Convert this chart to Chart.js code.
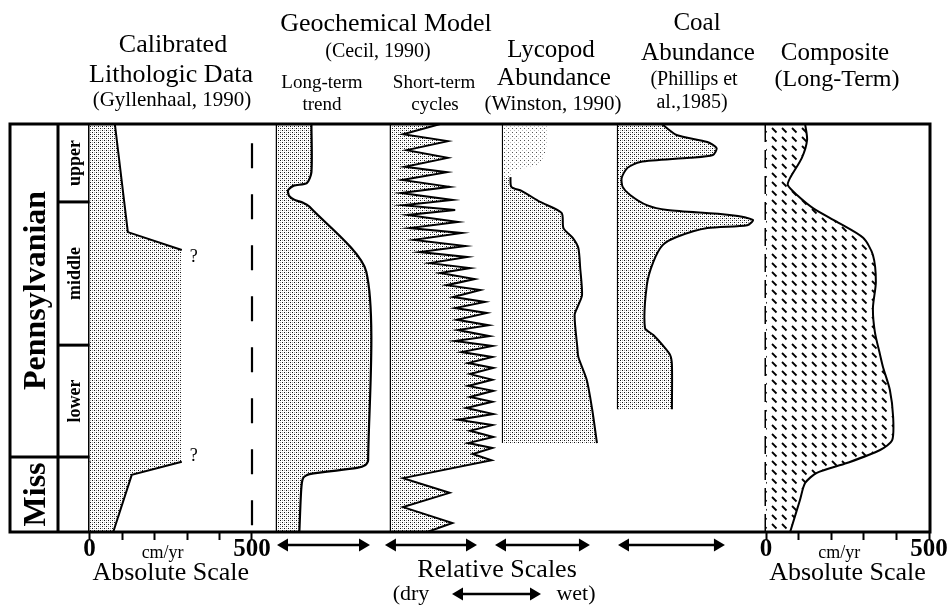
<!DOCTYPE html>
<html>
<head>
<meta charset="utf-8">
<script src="https://cdn.jsdelivr.net/npm/chart.js@4.4.1/dist/chart.umd.min.js"></script>
<style>
html,body{margin:0;padding:0;background:#fff;}
#wrap{width:947px;height:606px;position:relative;}
</style>
</head>
<body>
<div id="wrap"><canvas id="c" width="947" height="606"></canvas></div>
<script>
// ================= DATA =================
// Vertical axis: relative stratigraphic position (0 = base of Miss. column, 100 = top of Upper Penn.)
const periodNames = ['Miss', 'Pennsylvanian'];
const periodBase  = [0, 18.4];
const periodTop   = [18.4, 100];
const subNames = ['', 'lower', 'middle', 'upper'];
const subBase  = [0, 18.4, 45.8, 80.9];
const subTop   = [18.4, 45.8, 80.9, 100];

// Calibrated lithologic data (cm/yr, absolute scale)
const lithRate = [78, 118, 284, 284, 130, 73];
const lithTime = [100, 73.5, 69.1, 17.2, 14.0, 0];
const lithUnknownFrom = 2; // segment between "?" marks (no outline)

// Geochemical model: long-term trend (relative units, dry -> wet)
const longTrend = [3.7, 3.7, 3.2, 1.8, 1.2, 1.3, 1.9, 2.8, 3.5, 9.6, 9.8, 9.5, 8.6, 3.5, 2.8, 2.6, 2.4];
const longTime  = [100, 88.2, 85.5, 84.9, 83.8, 82.4, 81.4, 80.7, 79.7, 63.8, 17.6, 16.4, 15.7, 14.2, 13.2, 10.3, 0];

// Geochemical model: short-term cycles (relative units)
const shortCycles = [5.3,1.3,6.1,1.7,6.1,1.5,6.0,1.2,6.3,1.1, 6.6,1.3,6.9,1.8,7.2,2.0,7.6,2.5,8.0,3.1,
  8.2,4.2,8.5,5.3,9.0,6.0,9.6,6.7,10.1,6.9, 10.3,7.1,10.5,7.2,10.6,6.9,10.9,7.6,10.9,8.3,
  11.0,8.5,10.9,8.3,11.0,8.5,10.9,8.1,11.0,7.2, 10.9,8.5,11.0,8.3,10.9,8.8,10.8,1.3,6.3,1.3, 6.6,3.9];
const shortTime = [100,97.5,95.8,93.6,91.7,89.5,88.2,86.3,84.6,83.1, 81.4,80.1,78.9,77.7,76.0,74.5,73.3,71.6,70.1,68.6,
  67.4,65.9,64.7,63.5,62.0,60.5,59.3,57.6,56.4,54.9, 53.7,52.0,50.7,49.5,48.0,46.8,45.6,44.1,42.9,41.4,
  40.2,38.7,37.3,35.8,34.6,33.1,31.9,30.4,28.9,27.5, 26.2,24.8,23.3,21.8,20.6,19.1,17.6,13.2,9.6,6.1, 2.2,0];

// Lycopod abundance (relative units) - faint upper part and outlined main part
const lycFaint     = [4.8, 4.7, 4.2, 3.0, 1.0, 0.8];
const lycFaintTime = [100, 95, 91, 89.5, 88.5, 87];
const lycAbund = [0.8, 0.9, 2.0, 4.0, 6.3, 6.5, 7.5, 8.1, 8.3, 8.5, 8.1, 7.7, 8.0, 8.1, 9.0, 9.6, 10.1];
const lycTime  = [87.0, 84.6, 83.6, 80.9, 78.2, 74.5, 72.1, 69.6, 64.7, 58.1, 55.6, 53.2, 45.1, 42.9, 37.3, 29.9, 21.8];

// Coal abundance (relative units)
const coalAbund = [4.7,6.3,9.6,10.6,10.2,7.7,2.4,1.0,0.4,0.5, 1.3,3.1,5.3,12.0,14.5,13.9,9.6,6.3,4.8,3.8, 3.1,2.9,3.8,4.8,5.6,5.8,5.8];
const coalTime  = [100,97.3,95.6,94.1,92.4,91.7,90.7,89.2,86.8,84.6, 82.6,80.1,78.9,77.7,76.5,75.2,74.5,72.3,70.3,66.2, 60.5,50.0,48.3,45.8,43.4,40.9,30.1];

// Composite long-term (cm/yr, absolute scale)
const compRate = [120,126,110,74,67,95,144,218,298,328,337,328,334,350,359,380,390,387,350,248,156,120,104,74];
const compTime = [100,96.1,91.7,86.8,85.0,82.6,79.4,76.0,72.1,67.9,61.3,54.9,49.0,43.4,40.4,34.8,28.2,22.5,20.1,16.9,14.5,12.0,7.8,0];

// Axis ticks
const absTicks = [0, 100, 200, 300, 400, 500];
const absTickLabels = {0: '0', 500: '500'};
const absUnit = 'cm/yr';
const absUnitAt = 225;
const lithDashedAt = 500;

// ================= LAYOUT =================
const W = 947, H = 606;
const AREA = {left: 10, right: 930, top: 124, bottom: 532};
const SERIF = '"Liberation Serif", "Times New Roman", serif';
function panelRange(originPx, pxPerUnit) {
  return {min: (AREA.left - originPx) / pxPerUnit, max: (AREA.right - originPx) / pxPerUnit};
}
const canvas = document.getElementById('c');
const c2d = canvas.getContext('2d');
function tile(w, h, draw) {
  const t = document.createElement('canvas'); t.width = w; t.height = h;
  const g = t.getContext('2d'); g.fillStyle = '#fff'; g.fillRect(0, 0, w, h); draw(g);
  return c2d.createPattern(t, 'repeat');
}
const stipple = tile(4, 4, g => { g.fillStyle = '#111'; g.fillRect(0, 0, 1, 1); g.fillRect(2, 2, 1, 1); g.fillStyle = '#aaa'; g.fillRect(2, 0, 1, 1); g.fillRect(0, 2, 1, 1); });
const faintStipple = tile(4, 4, g => { g.fillStyle = '#555'; g.fillRect(0, 0, 1, 1); g.fillStyle = '#bbb'; g.fillRect(2, 2, 1, 1); });
const hatch = tile(10, 9, g => { g.strokeStyle = '#000'; g.lineWidth = 1.8; g.beginPath(); g.moveTo(2, 2); g.lineTo(6.5, 6.5); g.stroke(); });

const pts = (xs, ts) => xs.map((x, i) => ({x: x, y: ts[i]}));
const vline = (axis, from, to, width, dash) => ({
  xAxisID: axis, data: [{x: 0, y: to}, {x: 0, y: from}], fill: false,
  borderColor: '#000', borderWidth: width, borderDash: dash || [], tension: 0
});

function absAxis(originPx, pxPerUnit) {
  return Object.assign({
    type: 'linear', display: true, position: {y: 0},
    border: {display: false},
    grid: {display: true, drawOnChartArea: false, drawTicks: true, tickLength: 8, tickWidth: 2,
      tickColor: ctx => (ctx.tick && ctx.tick.value === absUnitAt) ? 'rgba(0,0,0,0)' : '#000'},
    afterBuildTicks: sc => { sc.ticks = absTicks.concat([absUnitAt]).sort((a, b) => a - b).map(v => ({value: v})); },
    afterFit: sc => { sc.paddingLeft = 0; sc.paddingRight = 0; },
    ticks: {
      autoSkip: false, maxRotation: 0, minRotation: 0, padding: -5, color: '#000',
      font: ctx => (ctx.tick && ctx.tick.value === absUnitAt)
        ? {family: SERIF, size: 18, lineHeight: 2.0}
        : {family: SERIF, size: 25, weight: 'bold', lineHeight: 1.2},
      callback: v => v === absUnitAt ? absUnit : (absTickLabels[v] || '')
    }
  }, panelRange(originPx, pxPerUnit));
}
const hidden = r => Object.assign({type: 'linear', display: false}, r);

// ---------------- annotations plugin ----------------
function text(ctx, s, x, y, size, bold, align) {
  ctx.font = (bold ? 'bold ' : '') + size + 'px ' + SERIF;
  ctx.textAlign = align || 'center'; ctx.textBaseline = 'middle'; ctx.fillStyle = '#000';
  ctx.fillText(s, x, y);
}
function seg(ctx, x1, y1, x2, y2) { ctx.beginPath(); ctx.moveTo(x1, y1); ctx.lineTo(x2, y2); ctx.stroke(); }
function arrow(ctx, x1, x2, y) {
  const hl = 11, hh = 6.5;
  ctx.lineWidth = 2.5; seg(ctx, x1 + 4, y, x2 - 4, y);
  ctx.beginPath(); ctx.moveTo(x1, y); ctx.lineTo(x1 + hl, y - hh); ctx.lineTo(x1 + hl, y + hh); ctx.closePath(); ctx.fill();
  ctx.beginPath(); ctx.moveTo(x2, y); ctx.lineTo(x2 - hl, y - hh); ctx.lineTo(x2 - hl, y + hh); ctx.closePath(); ctx.fill();
}
const headers = [
  ['Calibrated', 173, 45, 26], ['Lithologic Data', 171, 75, 26], ['(Gyllenhaal, 1990)', 172, 100, 21],
  ['Geochemical Model', 386, 24, 26], ['(Cecil, 1990)', 378, 52, 20],
  ['Long-term', 322, 83, 19], ['trend', 322, 105, 19], ['Short-term', 434, 83, 19], ['cycles', 435, 105, 19],
  ['Lycopod', 551, 50, 25], ['Abundance', 554, 78, 25], ['(Winston, 1990)', 553, 104, 21],
  ['Coal', 697, 23, 25], ['Abundance', 698, 53, 25], ['(Phillips et', 694, 80, 20], ['al.,1985)', 692, 103, 20],
  ['Composite', 835, 53, 25], ['(Long-Term)', 837, 80, 24]
];
const relArrows = [['xLT', 0, 10], ['xST', -0.65, 9.25], ['xLyc', -0.86, 9.35], ['xCoal', 0, 11.5]];

const annotate = {
  id: 'annotate',
  afterDraw(chart) {
    const ctx = chart.ctx, a = chart.chartArea, ys = chart.scales.y;
    const xL = chart.scales.xLith, xC = chart.scales.xComp;
    ctx.save();
    ctx.strokeStyle = '#000'; ctx.fillStyle = '#000'; ctx.lineCap = 'butt';
    // frame and stratigraphic columns
    ctx.lineWidth = 3;
    ctx.strokeRect(a.left, a.top, a.right - a.left, a.bottom - a.top);
    const colDiv = 58, lithLeft = xL.getPixelForValue(0);
    seg(ctx, colDiv, a.top, colDiv, a.bottom);
    const yMiss = ys.getPixelForValue(periodTop[0]);
    seg(ctx, a.left, yMiss, lithLeft, yMiss);
    for (let i = 2; i < subBase.length; i++) {
      const yb = ys.getPixelForValue(subBase[i]);
      seg(ctx, colDiv, yb, lithLeft, yb);
    }
    // period labels (rotated)
    for (let i = 0; i < periodNames.length; i++) {
      const yc = ys.getPixelForValue((periodBase[i] + periodTop[i]) / 2);
      ctx.save(); ctx.translate(37, yc); ctx.rotate(-Math.PI / 2);
      text(ctx, periodNames[i], 0, 0, 32, true); ctx.restore();
    }
    for (let i = 0; i < subNames.length; i++) {
      if (!subNames[i]) continue;
      const yc = ys.getPixelForValue((subBase[i] + subTop[i]) / 2);
      ctx.save(); ctx.translate(75, yc); ctx.rotate(-Math.PI / 2);
      text(ctx, subNames[i], 0, 0, 18, true); ctx.restore();
    }
    // question marks at the ends of the uncertain lithologic segment
    const q1x = xL.getPixelForValue(lithRate[lithUnknownFrom]), q1y = ys.getPixelForValue(lithTime[lithUnknownFrom]);
    const q2x = xL.getPixelForValue(lithRate[lithUnknownFrom + 1]), q2y = ys.getPixelForValue(lithTime[lithUnknownFrom + 1]);
    text(ctx, '?', q1x + 12, q1y + 7, 18, false);
    text(ctx, '?', q2x + 12, q2y - 6, 18, false);
    // headers
    headers.forEach(h => text(ctx, h[0], h[1], h[2], h[3], false));
    // relative-scale arrows
    const yArr = a.bottom + 13;
    relArrows.forEach(r => {
      const sc = chart.scales[r[0]];
      arrow(ctx, sc.getPixelForValue(r[1]), sc.getPixelForValue(r[2]), yArr);
    });
    // bottom titles
    text(ctx, 'Absolute Scale', xL.getPixelForValue(250), 573, 26, false);
    text(ctx, 'Absolute Scale', xC.getPixelForValue(250), 573, 26, false);
    text(ctx, 'Relative Scales', 497, 570, 26, false);
    text(ctx, '(dry', 411, 594, 22, false);
    arrow(ctx, 452, 541, 594);
    text(ctx, 'wet)', 576, 594, 22, false);
    ctx.restore();
  }
};

// ---------------- chart ----------------
const REL = 9.3; // px per relative unit
new Chart(c2d, {
  type: 'line',
  data: {
    datasets: [
      {label: 'Calibrated lithologic data', xAxisID: 'xLith', data: pts(lithRate, lithTime), fill: 'origin',
        backgroundColor: stipple, borderColor: '#000', borderWidth: 2, tension: 0,
        segment: {borderColor: c => c.p0DataIndex === lithUnknownFrom ? 'rgba(0,0,0,0)' : '#000'}},
      {label: 'Long-term trend', xAxisID: 'xLT', data: pts(longTrend, longTime), fill: 'origin',
        backgroundColor: stipple, borderColor: '#000', borderWidth: 2.2, tension: 0.25},
      {label: 'Short-term cycles', xAxisID: 'xST', data: pts(shortCycles, shortTime), fill: 'origin',
        backgroundColor: stipple, borderColor: '#000', borderWidth: 2, tension: 0},
      {label: 'Lycopod (faint)', xAxisID: 'xLyc', data: pts(lycFaint, lycFaintTime), fill: 'origin',
        backgroundColor: faintStipple, borderWidth: 0, borderColor: 'rgba(0,0,0,0)', tension: 0.3},
      {label: 'Lycopod abundance', xAxisID: 'xLyc', data: pts(lycAbund, lycTime), fill: 'origin',
        backgroundColor: stipple, borderColor: '#000', borderWidth: 2, tension: 0.25},
      {label: 'Coal abundance', xAxisID: 'xCoal', data: pts(coalAbund, coalTime), fill: 'origin',
        backgroundColor: stipple, borderColor: '#000', borderWidth: 2, tension: 0.25},
      {label: 'Composite', xAxisID: 'xComp', data: pts(compRate, compTime), fill: 'origin',
        backgroundColor: hatch, borderColor: '#000', borderWidth: 2, tension: 0.25},
      Object.assign(vline('xLith', 0, 100, 3), {label: 'lith base'}),
      {label: '500 cm/yr', xAxisID: 'xLith', data: [{x: lithDashedAt, y: 95.3}, {x: lithDashedAt, y: 0}],
        fill: false, borderColor: '#000', borderWidth: 2.2, borderDash: [25, 26], tension: 0},
      Object.assign(vline('xLT', 0, 100, 2.5), {label: 'lt base'}),
      Object.assign(vline('xST', 0, 100, 2.5), {label: 'st base'}),
      Object.assign(vline('xLyc', lycTime[lycTime.length - 1], 100, 2.2), {label: 'lyc base'}),
      Object.assign(vline('xCoal', coalTime[coalTime.length - 1], 100, 2.2), {label: 'coal base'}),
      Object.assign(vline('xComp', 0, 100, 3, [18, 8]), {label: 'comp base'})
    ]
  },
  options: {
    responsive: false, animation: false, events: [], indexAxis: 'y',
    layout: {padding: {left: AREA.left, right: W - AREA.right, top: AREA.top, bottom: H - AREA.bottom}},
    elements: {point: {radius: 0}},
    plugins: {legend: {display: false}, tooltip: {enabled: false}, title: {display: false}},
    scales: {
      y: {type: 'linear', min: 0, max: 100, display: false},
      xLith: absAxis(89.5, 0.325),
      xLT: hidden(panelRange(277, REL)),
      xST: hidden(panelRange(391, REL)),
      xLyc: hidden(panelRange(503, REL)),
      xCoal: hidden(panelRange(618, REL)),
      xComp: absAxis(766, 0.326)
    }
  },
  plugins: [annotate]
});
</script>
</body>
</html>
